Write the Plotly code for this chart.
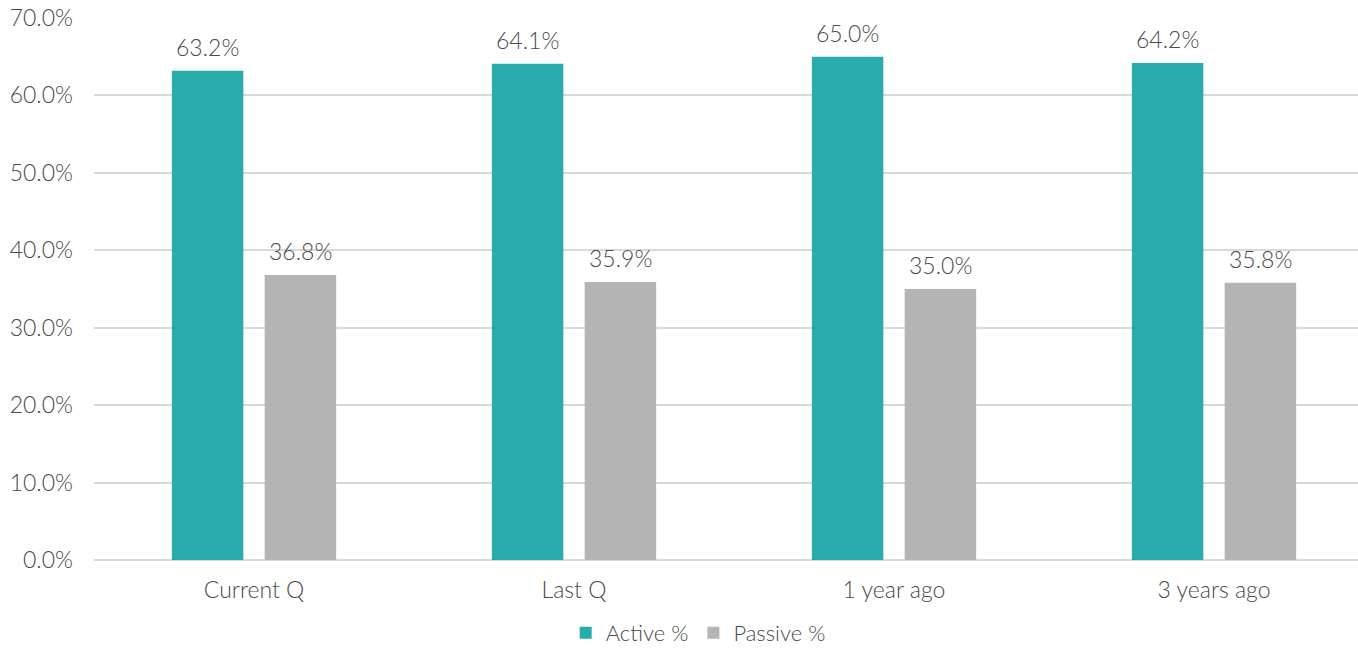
import plotly.graph_objects as go

categories = ["Current Q", "Last Q", "1 year ago", "3 years ago"]
active_pct = [63.2, 64.1, 65.0, 64.2]
passive_pct = [36.8, 35.9, 35.0, 35.8]
y_ticks = [0, 10, 20, 30, 40, 50, 60, 70]

FONT = "Lato, 'Open Sans', sans-serif"
TEXT = "#4a4a4a"
FS = 23
BAR_OFFSET_PX = 46.5  # half of a bar slot inside each category group

fig = go.Figure()
fig.add_trace(go.Bar(
    x=categories, y=active_pct, name="Active %",
    marker=dict(color="#2aacad", line=dict(width=0)),
))
fig.add_trace(go.Bar(
    x=categories, y=passive_pct, name="Passive %",
    marker=dict(color="#b3b4b3", line=dict(width=0)),
))

# value labels above each bar
for values, shift in ((active_pct, -BAR_OFFSET_PX), (passive_pct, BAR_OFFSET_PX)):
    for cat, v in zip(categories, values):
        fig.add_annotation(
            x=cat, y=v, xref="x", yref="y", text=f"{v:.1f}%",
            showarrow=False, xshift=shift, yshift=8, yanchor="bottom",
            font=dict(size=FS, color=TEXT, family=FONT, weight=300),
        )

fig.update_layout(
    width=1358, height=648,
    margin=dict(l=94, r=0, t=18, b=88, autoexpand=False),
    paper_bgcolor="white", plot_bgcolor="white",
    font=dict(family=FONT, size=FS, color=TEXT, weight=300),
    barmode="group", bargap=0.42, bargroupgap=0.23,
    showlegend=True,
    legend=dict(orientation="h", x=0.478, xanchor="center", y=-0.1345, yanchor="middle",
                font=dict(size=FS - 1, color=TEXT, weight=300), itemsizing="constant",
                itemwidth=30, tracegroupgap=0),
)
fig.update_xaxes(range=[-0.5, 3.45], showgrid=False, showline=False, ticks="",
                 tickfont=dict(size=FS, color=TEXT, weight=300), ticklabelstandoff=14)
fig.update_yaxes(range=[0, 70], tickvals=y_ticks,
                 ticktext=[f"{v:.1f}%" for v in y_ticks],
                 showgrid=True, gridcolor="#d9d9d9", gridwidth=1.5,
                 zeroline=True, zerolinecolor="#d9d9d9", zerolinewidth=1.5,
                 showline=False, ticks="", tickfont=dict(size=FS, color=TEXT, weight=300),
                 ticklabelstandoff=20)

fig.write_html("out.html")
